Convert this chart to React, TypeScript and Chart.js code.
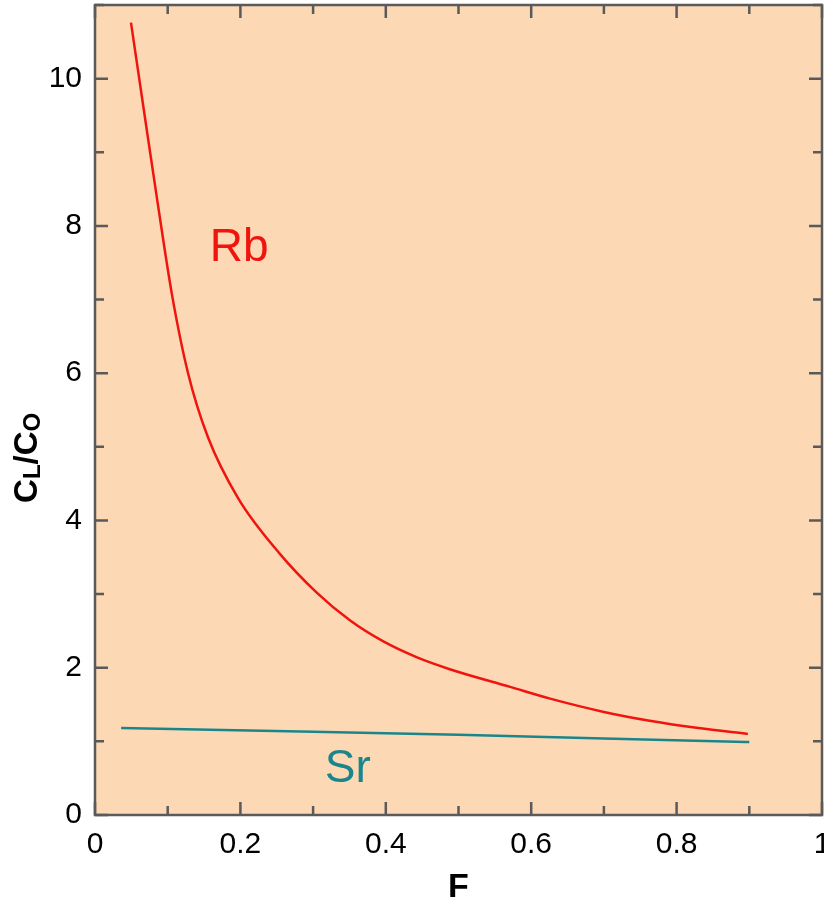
import React, { useEffect, useRef } from "react";
import { Chart, registerables } from "chart.js";

Chart.register(...registerables);

// Fraction of melt remaining F, and normalized liquid concentration C_L/C_O
const rbF = [0.0495, 0.0674, 0.0853, 0.106, 0.128, 0.155, 0.197, 0.254, 0.305, 0.351, 0.396, 0.443, 0.488, 0.571, 0.626, 0.7, 0.763, 0.83, 0.898];
const rbV = [10.76, 9.56, 8.37, 7.06, 6.0, 5.14, 4.3, 3.55, 3.02, 2.64, 2.36, 2.14, 1.98, 1.74, 1.58, 1.4, 1.28, 1.18, 1.1];
const srF = [0.036, 0.3, 0.5, 0.7, 0.9];
const srV = [1.18, 1.13, 1.09, 1.04, 0.99];

const xTicks = [0, 0.2, 0.4, 0.6, 0.8, 1];
const yTicks = [0, 2, 4, 6, 8, 10];
const xMinor = [0.1, 0.3, 0.5, 0.7, 0.9];
const yMinor = [1, 3, 5, 7, 9, 11];

const FONT = "'Liberation Sans', Arial, Helvetica, sans-serif";

const framePlugin = {
  id: "framePlugin",
  beforeDraw(chart: any) {
    const { ctx, chartArea: a } = chart;
    ctx.save();
    ctx.fillStyle = "#FCD9B4";
    ctx.fillRect(a.left, a.top, a.right - a.left, a.bottom - a.top);
    ctx.restore();
  },
  afterDraw(chart: any) {
    const { ctx, chartArea: a, scales } = chart;
    const xs = scales.x;
    const ys = scales.y;
    ctx.save();
    ctx.strokeStyle = "#5a5a5a";
    ctx.lineWidth = 2.5;
    ctx.lineCap = "butt";
    const major = 13;
    const minor = 9;
    const drawX = (v: number, len: number) => {
      const px = xs.getPixelForValue(v);
      ctx.beginPath();
      ctx.moveTo(px, a.bottom);
      ctx.lineTo(px, a.bottom - len);
      ctx.moveTo(px, a.top);
      ctx.lineTo(px, a.top + len);
      ctx.stroke();
    };
    const drawY = (v: number, len: number) => {
      const py = ys.getPixelForValue(v);
      ctx.beginPath();
      ctx.moveTo(a.left, py);
      ctx.lineTo(a.left + len, py);
      ctx.moveTo(a.right, py);
      ctx.lineTo(a.right - len, py);
      ctx.stroke();
    };
    xTicks.forEach((v) => drawX(v, major));
    xMinor.forEach((v) => drawX(v, minor));
    yTicks.forEach((v) => drawY(v, major));
    yMinor.forEach((v) => drawY(v, minor));
    ctx.strokeRect(a.left, a.top, a.right - a.left, a.bottom - a.top);

    // series labels
    ctx.textAlign = "left";
    ctx.textBaseline = "alphabetic";
    ctx.font = `46px ${FONT}`;
    ctx.fillStyle = "#F0140F";
    ctx.fillText("Rb", xs.getPixelForValue(0.158), ys.getPixelForValue(7.52));
    ctx.fillStyle = "#1A868C";
    ctx.fillText("Sr", xs.getPixelForValue(0.316), ys.getPixelForValue(0.45));

    // x title
    ctx.fillStyle = "#000";
    ctx.font = `bold 34px ${FONT}`;
    ctx.textAlign = "center";
    ctx.fillText("F", (a.left + a.right) / 2, 897);

    // y title with subscripts
    ctx.translate(37, ys.getPixelForValue(4.85));
    ctx.rotate(-Math.PI / 2);
    const big = `bold 33px ${FONT}`;
    const small = `bold 24px ${FONT}`;
    const parts: [string, string, number][] = [
      ["C", big, 0],
      ["L", small, 3],
      ["/", big, 0],
      ["C", big, 0],
      ["O", small, 3],
    ];
    let total = 0;
    parts.forEach(([t, f]) => {
      ctx.font = f;
      total += ctx.measureText(t).width;
    });
    let x = -total / 2;
    ctx.textAlign = "left";
    parts.forEach(([t, f, dy]) => {
      ctx.font = f;
      ctx.fillText(t, x, dy);
      x += ctx.measureText(t).width;
    });
    ctx.restore();
  },
};

export default function App() {
  const ref = useRef<HTMLCanvasElement | null>(null);
  useEffect(() => {
    document.body.style.margin = "0";
    const rb = rbF.map((f, i) => ({ x: f, y: rbV[i] }));
    const sr = srF.map((f, i) => ({ x: f, y: srV[i] }));
    const chart = new Chart(ref.current as HTMLCanvasElement, {
      type: "scatter",
      data: {
        datasets: [
          {
            label: "Rb",
            data: rb,
            showLine: true,
            borderColor: "#F0140F",
            borderWidth: 2.5,
            pointRadius: 0,
            cubicInterpolationMode: "monotone",
          },
          {
            label: "Sr",
            data: sr,
            showLine: true,
            borderColor: "#1A868C",
            borderWidth: 2.5,
            pointRadius: 0,
            cubicInterpolationMode: "monotone",
          },
        ],
      },
      options: {
        responsive: false,
        animation: false,
        layout: { padding: { top: 5, right: 2, left: 0, bottom: 0 } },
        plugins: { legend: { display: false }, tooltip: { enabled: false } },
        scales: {
          x: {
            type: "linear",
            min: 0,
            max: 1,
            afterFit: (s: any) => {
              s.height = 86;
              s.paddingLeft = 0;
              s.paddingRight = 0;
            },
            afterBuildTicks: (s: any) => {
              s.ticks = xTicks.map((v) => ({ value: v }));
            },
            grid: { display: false, drawTicks: false },
            border: { display: false },
            ticks: {
              padding: 12,
              color: "#000",
              font: { family: FONT, size: 30 },
              maxRotation: 0,
              callback: (v: any) => String(v),
            },
          },
          y: {
            type: "linear",
            min: 0,
            max: 11,
            afterFit: (s: any) => {
              s.width = 95;
              s.paddingTop = 0;
              s.paddingBottom = 0;
            },
            afterBuildTicks: (s: any) => {
              s.ticks = yTicks.map((v) => ({ value: v }));
            },
            grid: { display: false, drawTicks: false },
            border: { display: false },
            ticks: {
              padding: 13,
              color: "#000",
              font: { family: FONT, size: 30 },
              callback: (v: any) => String(v),
            },
          },
        },
      },
      plugins: [framePlugin],
    } as any);
    return () => chart.destroy();
  }, []);
  return <canvas ref={ref} width={824} height={901} style={{ display: "block" }} />;
}
